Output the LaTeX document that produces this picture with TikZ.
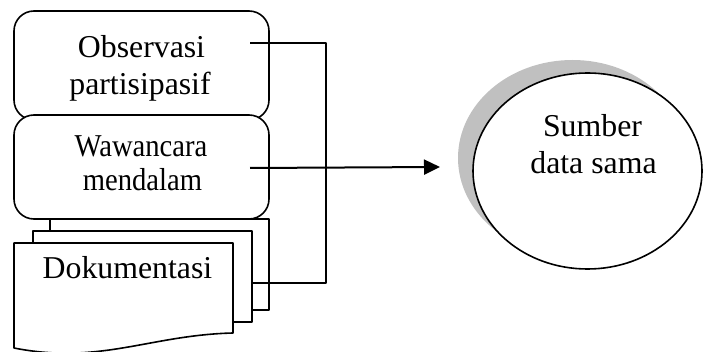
\documentclass[tikz,border=0pt]{standalone}
\usepackage{fontspec}
\setmainfont{Liberation Serif}
\usetikzlibrary{arrows.meta,shapes.geometric}
\tikzset{
  ln/.style={line width=1.6pt,line join=round},
  rbox/.style={ln,draw=black,fill=white,rounded corners=20pt,minimum width=255pt,inner sep=0pt},
  txt/.style={font=\fontsize{31.8}{37}\selectfont,inner sep=0pt,anchor=base},
  docbox/.style={ln,draw=black,fill=white},
}
\newcommand{\cond}[1]{\scalebox{0.9}[1]{#1}}
\begin{document}
\begin{tikzpicture}[x=1pt,y=-1pt]
\useasboundingbox (0,0) rectangle (703,352);
% document stack
\draw[docbox] (50,219) rectangle (269,310);
\draw[docbox] (33,231) rectangle (252,322);
\draw[docbox] (14,243) -- (233,243) -- (233,333)
   .. controls (150,335) and (100,365) .. (14,348) -- cycle;
\node[txt] (dok) at (127.5,279) {Dokumentasi};
% rounded boxes
\node[rbox,minimum height=109pt] (obs) at (141.5,65.5) {};
\node[rbox,minimum height=104pt] (waw) at (141.5,167) {};
\node[txt] (obs1) at (141.5,58) {Observasi};
\node[txt] (obs2) at (140,95) {partisipasif};
\node[txt] (waw1) at (141,157) {\cond{Wawancara}};
\node[txt] (waw2) at (142.5,191) {\cond{mendalam}};
% ellipse with shadow
\node[ellipse,fill={rgb,255:red,192;green,192;blue,192},minimum width=229pt,minimum height=196pt,inner sep=0pt] (shadow) at (572.5,158) {};
\node[ellipse,ln,draw=black,fill=white,minimum width=229pt,minimum height=196pt,inner sep=0pt] (src) at (587.5,171) {};
\node[txt] (src1) at (592.5,137) {Sumber};
\node[txt] (src2) at (593.5,174) {data sama};
% connectors
\coordinate (obsR) at (250,43);
\coordinate (elbow) at (326,283);
\coordinate (wawR) at (250,168);
\coordinate (tip) at (440,167);
\draw[ln] (obsR) -| (elbow) -- (elbow -| 252,0);
\draw[line width=2pt,-{Triangle[length=16pt,width=15pt]}] (wawR) -- (tip);
\end{tikzpicture}
\end{document}
